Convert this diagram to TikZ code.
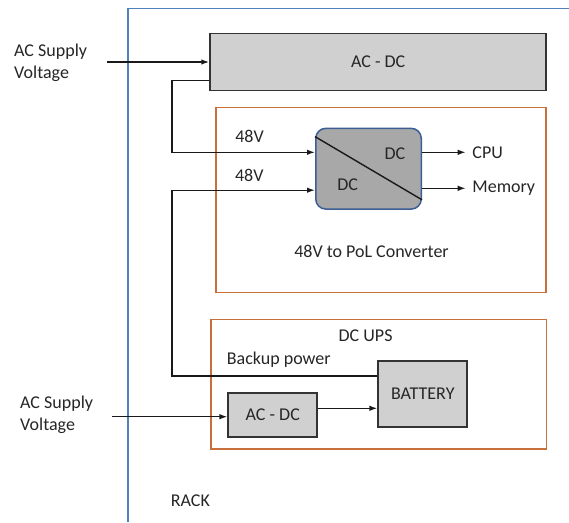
\documentclass[tikz,border=0pt]{standalone}
\usepackage{fontspec}
\setmainfont{Carlito}
\usepackage{tikz}
\usetikzlibrary{arrows.meta, positioning, calc}
\definecolor{rackblue}{HTML}{4F81BD}
\definecolor{grouporange}{HTML}{C8703C}
\definecolor{boxgray}{HTML}{D0D0D0}
\definecolor{dcgray}{HTML}{A8A8A8}
\definecolor{dcblue}{HTML}{3B5E96}
\definecolor{textdark}{HTML}{262626}

\begin{document}
\begin{tikzpicture}[x=1pt, y=-1pt, >={Latex[length=8pt,width=5.5pt]},
    font=\fontsize{18}{22}\selectfont, text=textdark,
    graybox/.style={draw=black!80, line width=1.8pt, fill=boxgray, inner sep=0pt},
    groupbox/.style={draw=grouporange, line width=1.5pt, inner sep=0pt},
    dcbox/.style={draw=dcblue, line width=1.5pt, fill=dcgray, rounded corners=10pt, inner sep=0pt},
    wire/.style={line width=1.4pt, black!90},
    txt/.style={inner sep=0pt}]
  \useasboundingbox (0,0) rectangle (569,522);

  % Rack
  \draw[rackblue, line width=1.3pt] (569,8.3) -- (128,8.3) -- (128,522);
  \node[txt, anchor=west] (rack) at (170.7,501) {RACK};

  % Hlavni AC-DC
  \node[graybox, minimum width=336pt, minimum height=57pt] (acdcTop) at (378.2,62) {AC - DC};
  \node[txt, anchor=west, align=left] (acSupplyTop) at (14,63) {AC Supply\\Voltage};
  \coordinate (acInTop) at (107.3,62);
  \draw[wire, ->] (acInTop) -- (acdcTop.west);

  % 48V to PoL
  \node[groupbox, minimum width=330pt, minimum height=185pt] (polBox) at (381,200) {};
  \node[txt] (polText) at (371.5,251.7) {48V to PoL Converter};
  \node[dcbox, minimum width=105.5pt, minimum height=80.7pt] (dcdc) at (368.5,168.7) {};
  \draw[wire] ($(dcdc.north west)+(0,9)$) -- ($(dcdc.south east)+(0,-10)$);
  \node[txt] (dcOut) at (395,153.3) {DC};
  \node[txt] (dcIn) at (347.7,185) {DC};
  \node[txt] (v48a) at (249.5,136.7) {48V};
  \node[txt] (v48b) at (249.3,175.7) {48V};

  % Vystupy
  \coordinate (cpuEnd) at (465.7,152.3);
  \coordinate (memEnd) at (465.7,188.3);
  \draw[wire, ->] (dcdc.east |- cpuEnd) -- (cpuEnd);
  \draw[wire, ->] (dcdc.east |- memEnd) -- (memEnd);
  \node[txt, right=6.5pt of cpuEnd] (cpu) {CPU};
  \node[txt, right=6.5pt of memEnd] (memory) {Memory};

  % DC UPS
  \node[groupbox, minimum width=335.7pt, minimum height=129.5pt] (upsBox) at (378.8,384) {};
  \node[txt] (upsText) at (365.6,336) {DC UPS};
  \node[txt, anchor=west] (backup) at (226.7,359.3) {Backup power};
  \node[graybox, minimum width=89pt, minimum height=66.3pt] (battery) at (422.8,394.2) {BATTERY};
  \node[graybox, minimum width=89pt, minimum height=44pt] (acdcUps) at (272.8,414.7) {AC - DC};
  \node[txt, anchor=west, align=left] (acSupplyUps) at (20,415) {AC Supply\\Voltage};
  \coordinate (acInUps) at (111.7,416.7);
  \draw[wire, ->] (acInUps) -- (acInUps -| acdcUps.west);
  \coordinate (charge) at ($(acdcUps.east)+(0,-6.4)$);
  \draw[wire, ->] (charge) -- (charge -| battery.west);

  % Napajeni 48V
  \coordinate (loopTop) at (172,80.3);
  \coordinate (loopBot) at (172,376);
  \draw[wire, ->] (acdcTop.west |- loopTop) -- (loopTop) |- ($(dcdc.west)+(0,-16.4)$);
  \draw[wire, ->] (battery.west |- loopBot) -- (loopBot) |- ($(dcdc.west)+(0,21.5)$);
\end{tikzpicture}
\end{document}
